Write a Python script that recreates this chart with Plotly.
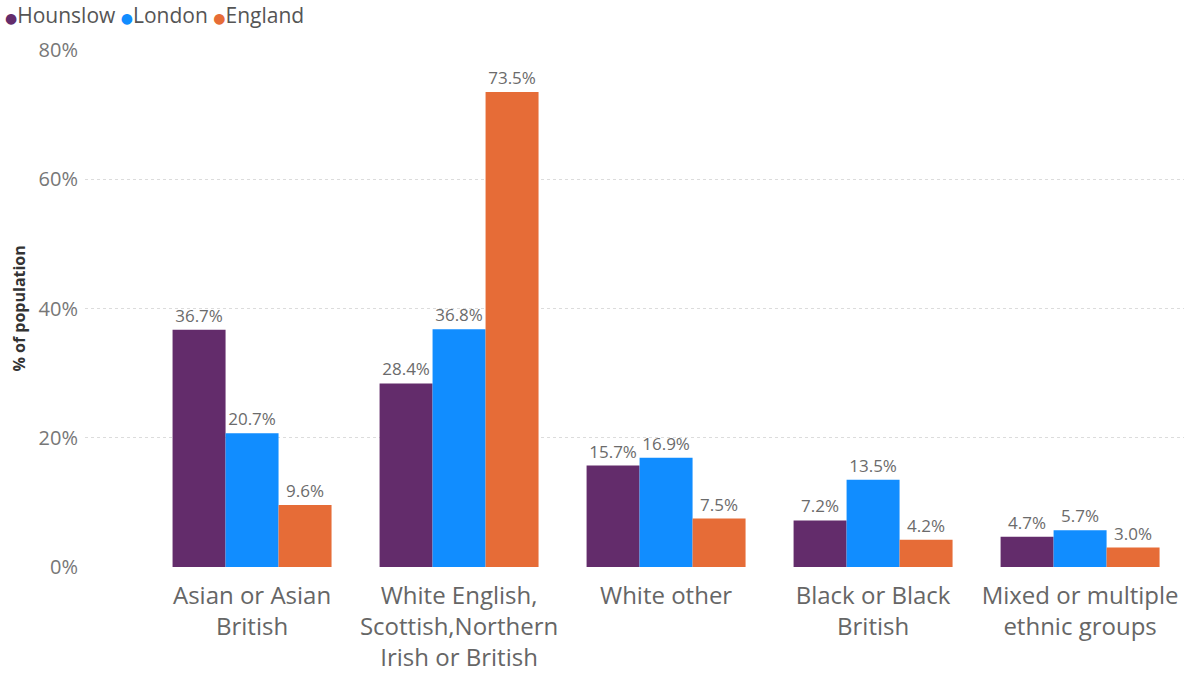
import plotly.graph_objects as go

categories = ["Asian or Asian<br>British",
              "White English,<br>Scottish,Northern<br>Irish or British",
              "White other",
              "Black or Black<br>British",
              "Mixed or multiple<br>ethnic groups"]
hounslow = [36.7, 28.4, 15.7, 7.2, 4.7]
london = [20.7, 36.8, 16.9, 13.5, 5.7]
england = [9.6, 73.5, 7.5, 4.2, 3.0]
series_names = ["Hounslow", "London", "England"]
colors = ["#632C6B", "#118DFF", "#E66C37"]
y_ticks = [0, 20, 40, 60, 80]
y_ticklabels = ["0%", "20%", "40%", "60%", "80%"]

FONT = "Segoe UI, Open Sans, sans-serif"
fig = go.Figure()
xs = list(range(len(categories)))
for name, vals, col in zip(series_names, [hounslow, london, england], colors):
    fig.add_trace(go.Bar(
        x=xs, y=vals, name=name, marker=dict(color=col, line=dict(width=0)),
        text=[f"{v:.1f}%" for v in vals], textposition="outside",
        textfont=dict(size=17, color="#6b6b6b", family=FONT),
        cliponaxis=False, showlegend=False,
    ))

W, H = 1186, 673
L, R, T, B = 85, 2, 50, 106

legend_text = " ".join(
    f"<span style='color:{c};font-size:14px;font-family:DejaVu Sans'>●</span>{n}"
    for n, c in zip(series_names, colors)
)

fig.update_layout(
    width=W, height=H,
    paper_bgcolor="white", plot_bgcolor="white",
    margin=dict(l=L, r=R, t=T, b=B, autoexpand=False),
    barmode="group", bargap=0.232, bargroupgap=0,
    font=dict(family=FONT, color="#666666"),
    showlegend=False,
    xaxis=dict(tickmode="array", tickvals=xs, ticktext=categories,
               range=[-0.807, 4.502], showgrid=False, zeroline=False,
               showline=False, ticks="", automargin=False,
               tickfont=dict(size=24, color="#666666", family=FONT),
               ticklabelstandoff=12),
    yaxis=dict(range=[0, 80], tickmode="array", tickvals=y_ticks,
               ticktext=y_ticklabels, showgrid=True, gridcolor="#dcdcdc",
               griddash="dot", gridwidth=1, zeroline=False, showline=False,
               automargin=False,
               tickfont=dict(size=20, color="#777777", family=FONT),
               ticklabelstandoff=6),
    annotations=[
        dict(text="<b>% of population</b>", textangle=-90,
             xref="paper", yref="paper",
             x=(18 - L) / (W - L - R), y=0.5,
             xanchor="center", yanchor="middle", showarrow=False,
             font=dict(size=16, color="#333333", family=FONT)),
        dict(text=legend_text, xref="paper", yref="paper",
             x=(3 - L) / (W - L - R), y=1 + (T - 15) / (H - T - B),
             xanchor="left", yanchor="middle", showarrow=False,
             font=dict(size=21, color="#555555", family=FONT)),
    ],
)

fig.write_html("out.html", config={"displayModeBar": False},
               post_script="document.body.style.margin='0';document.body.style.overflow='hidden';")
